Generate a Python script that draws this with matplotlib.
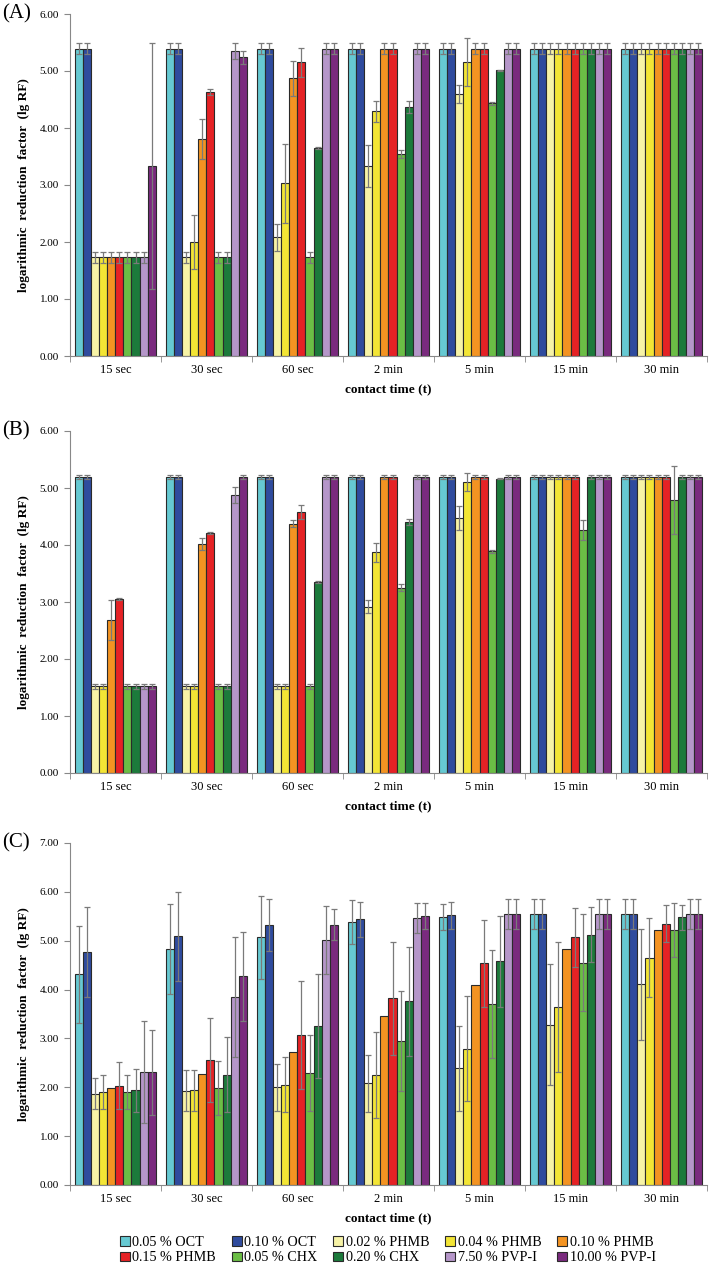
import matplotlib
matplotlib.use('Agg')
import matplotlib.pyplot as plt
from matplotlib.patches import Patch
import numpy as np

plt.rcParams['font.family'] = ['Liberation Serif', 'DejaVu Serif']

#Contact times and the tested antiseptics
times = ['15 sec', '30 sec', '60 sec', '2 min', '5 min', '15 min', '30 min']
labels = ['0.05 % OCT', '0.10 % OCT', '0.02 % PHMB', '0.04 % PHMB', '0.10 % PHMB',
          '0.15 % PHMB', '0.05 % CHX', '0.20 % CHX', '7.50 % PVP-I', '10.00 % PVP-I']
colors = ['#66C9D2', '#2F4B9E', '#F7F3A6', '#F3E535', '#F39322',
          '#E52225', '#6BBE45', '#1C7A3B', '#B596C9', '#7A2A7E']

#Panel (A) values, one row per antiseptic
vals_a = [[5.39, 5.39, 5.39, 5.39, 5.39, 5.39, 5.39],
          [5.39, 5.39, 5.39, 5.39, 5.39, 5.39, 5.39],
          [1.73, 1.73, 2.08, 3.33, 4.60, 5.39, 5.39],
          [1.73, 2.00, 3.03, 4.29, 5.16, 5.39, 5.39],
          [1.73, 3.80, 4.87, 5.39, 5.39, 5.39, 5.39],
          [1.73, 4.63, 5.15, 5.39, 5.39, 5.39, 5.39],
          [1.73, 1.73, 1.73, 3.55, 4.43, 5.39, 5.39],
          [1.73, 1.73, 3.65, 4.37, 5.01, 5.39, 5.39],
          [1.73, 5.35, 5.39, 5.39, 5.39, 5.39, 5.39],
          [3.33, 5.24, 5.39, 5.39, 5.39, 5.39, 5.39]]
err_a = [[0.10, 0.10, 0.10, 0.10, 0.10, 0.10, 0.10],
         [0.10, 0.10, 0.10, 0.10, 0.10, 0.10, 0.10],
         [0.09, 0.09, 0.23, 0.37, 0.16, 0.10, 0.10],
         [0.09, 0.47, 0.69, 0.19, 0.42, 0.10, 0.10],
         [0.09, 0.35, 0.30, 0.10, 0.10, 0.10, 0.10],
         [0.09, 0.05, 0.25, 0.10, 0.10, 0.10, 0.10],
         [0.09, 0.09, 0.09, 0.07, 0.03, 0.10, 0.10],
         [0.09, 0.09, 0.02, 0.10, 0.01, 0.10, 0.10],
         [0.09, 0.14, 0.10, 0.10, 0.10, 0.10, 0.10],
         [2.16, 0.11, 0.10, 0.10, 0.10, 0.10, 0.10]]

#Panel (B)
vals_b = [[5.19, 5.19, 5.19, 5.19, 5.19, 5.19, 5.19],
          [5.19, 5.19, 5.19, 5.19, 5.19, 5.19, 5.19],
          [1.52, 1.52, 1.52, 2.92, 4.47, 5.19, 5.19],
          [1.52, 1.52, 1.52, 3.87, 5.10, 5.19, 5.19],
          [2.68, 4.02, 4.37, 5.19, 5.19, 5.19, 5.19],
          [3.05, 4.21, 4.58, 5.19, 5.19, 5.19, 5.19],
          [1.52, 1.52, 1.52, 3.25, 3.89, 4.26, 4.79],
          [1.52, 1.52, 3.35, 4.40, 5.16, 5.19, 5.19],
          [1.52, 4.87, 5.19, 5.19, 5.19, 5.19, 5.19],
          [1.52, 5.19, 5.19, 5.19, 5.19, 5.19, 5.19]]
err_b = [[0.04, 0.04, 0.04, 0.04, 0.04, 0.04, 0.04],
         [0.04, 0.04, 0.04, 0.04, 0.04, 0.04, 0.04],
         [0.04, 0.04, 0.04, 0.12, 0.21, 0.04, 0.04],
         [0.04, 0.04, 0.04, 0.16, 0.16, 0.04, 0.04],
         [0.35, 0.10, 0.06, 0.04, 0.04, 0.04, 0.04],
         [0.02, 0.01, 0.12, 0.04, 0.04, 0.04, 0.04],
         [0.04, 0.04, 0.04, 0.06, 0.03, 0.17, 0.60],
         [0.04, 0.04, 0.01, 0.05, 0.01, 0.04, 0.04],
         [0.04, 0.14, 0.04, 0.04, 0.04, 0.04, 0.04],
         [0.04, 0.04, 0.04, 0.04, 0.04, 0.04, 0.04]]

#Panel (C), 0.10 % PHMB has no error bars
vals_c = [[4.31, 4.83, 5.07, 5.38, 5.48, 5.55, 5.55],
          [4.77, 5.09, 5.32, 5.44, 5.52, 5.55, 5.55],
          [1.87, 1.93, 2.00, 2.08, 2.39, 3.28, 4.11],
          [1.90, 1.94, 2.05, 2.26, 2.79, 3.65, 4.65],
          [1.99, 2.28, 2.72, 3.46, 4.09, 4.83, 5.22],
          [2.03, 2.55, 3.07, 3.82, 4.54, 5.07, 5.35],
          [1.90, 1.98, 2.29, 2.95, 3.70, 4.55, 5.22],
          [1.94, 2.26, 3.26, 3.76, 4.58, 5.12, 5.48],
          [2.31, 3.84, 5.02, 5.47, 5.55, 5.55, 5.55],
          [2.31, 4.27, 5.33, 5.50, 5.55, 5.55, 5.55]]
err_c = [[0.99, 0.92, 0.85, 0.45, 0.27, 0.30, 0.30],
         [0.93, 0.91, 0.53, 0.36, 0.27, 0.30, 0.30],
         [0.32, 0.42, 0.48, 0.59, 0.87, 1.24, 1.14],
         [0.35, 0.42, 0.56, 0.88, 1.07, 1.33, 0.81],
         None,
         [0.48, 0.86, 1.10, 1.16, 0.89, 0.60, 0.38],
         [0.35, 0.55, 0.78, 1.02, 1.11, 0.99, 0.55],
         [0.44, 0.76, 1.06, 1.12, 0.93, 0.56, 0.26],
         [1.05, 1.23, 0.70, 0.31, 0.30, 0.30, 0.30],
         [0.87, 0.91, 0.32, 0.27, 0.30, 0.30, 0.30]]

#Draw one panel of grouped bars
def draw_panel(ax, vals, errs, ymax, tag):
    x = np.arange(len(times))
    w = 0.088
    for i in range(len(labels)):
        ax.bar(x + (i - 4.5) * w, vals[i], w, color=colors[i], edgecolor='#2a2a2a',
               linewidth=0.8, yerr=errs[i], zorder=2,
               error_kw=dict(ecolor='#7a7a7a', elinewidth=0.9, capsize=2, capthick=0.9, zorder=3))
    ax.set_xlim(-0.5, len(times) - 0.5)
    ax.set_ylim(0, ymax)
    ax.set_yticks(np.arange(0, ymax + 0.5, 1))
    ax.set_yticklabels(['%.2f' % v for v in np.arange(0, ymax + 0.5, 1)], fontsize=8)
    ax.set_xticks(x)
    ax.set_xticklabels(times, fontsize=9)
    ax.set_xticks(np.arange(-0.5, len(times)), minor=True)
    ax.tick_params(axis='x', which='major', length=0, pad=6)
    ax.tick_params(axis='x', which='minor', length=4, color='#888888')
    ax.tick_params(axis='y', length=4, color='#888888', pad=4)
    for s in ['top', 'right']:
        ax.spines[s].set_visible(False)
    for s in ['left', 'bottom']:
        ax.spines[s].set_color('#888888')
    ax.set_xlabel('contact time (t)', fontsize=9.5, fontweight='bold', labelpad=5)
    ax.set_ylabel('logarithmic  reduction  factor  (lg RF)', fontsize=9.5, fontweight='bold')
    ax.yaxis.set_label_coords(-0.062, 0.5)
    ax.text(-0.107, 1.0, tag, transform=ax.transAxes, fontsize=15, va='center', ha='left')

fig = plt.figure(figsize=(7.09, 12.68), dpi=100)
ax1 = fig.add_axes([0.0987, 1 - 356 / 1268, 0.8985, 342 / 1268])
ax2 = fig.add_axes([0.0987, 1 - 773 / 1268, 0.8985, 342 / 1268])
ax3 = fig.add_axes([0.0987, 1 - 1185 / 1268, 0.8985, 342 / 1268])
draw_panel(ax1, vals_a, err_a, 6, '(A)')
draw_panel(ax2, vals_b, err_b, 6, '(B)')
draw_panel(ax3, vals_c, err_c, 7, '(C)')

#Legend in two rows, reorder so matplotlib's column filling reads row by row
handles = [Patch(facecolor=colors[i], edgecolor='#2a2a2a', linewidth=0.8) for i in range(len(labels))]
order = [0, 5, 1, 6, 2, 7, 3, 8, 4, 9]
fig.legend([handles[i] for i in order], [labels[i] for i in order], ncol=5, loc='center',
           bbox_to_anchor=(0.547, 1 - 1250 / 1268), frameon=False, fontsize=10.2,
           handlelength=0.7, handleheight=0.7, handletextpad=0.2, columnspacing=1.1,
           labelspacing=0.2, borderpad=0)

plt.savefig('out.png', dpi=100)
